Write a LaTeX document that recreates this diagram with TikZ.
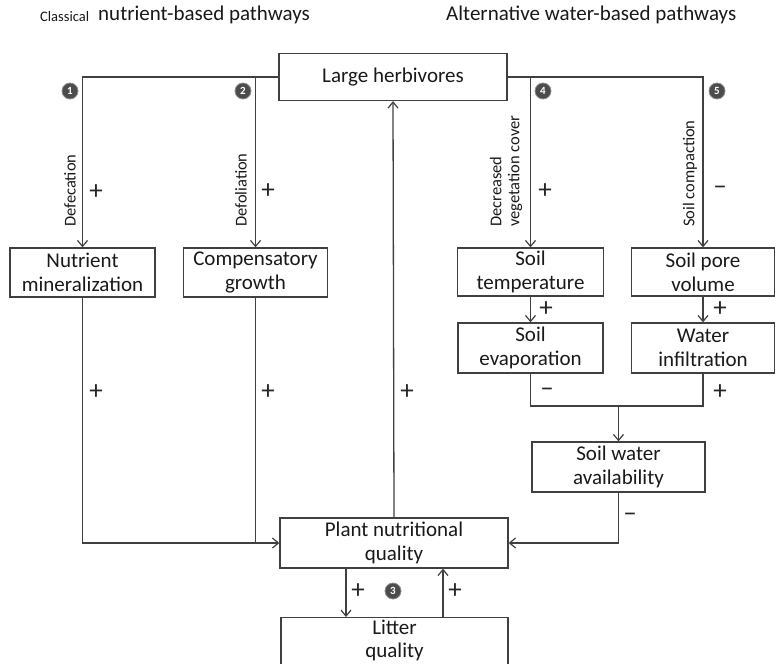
\documentclass[tikz,border=0pt]{standalone}
\usepackage{fontspec}
\setmainfont{Carlito}
\usetikzlibrary{arrows.meta}
\begin{document}
\begin{tikzpicture}[x=1pt,y=-1pt,
  box/.style={draw=black!75, line width=1.3pt, minimum height=49pt, align=center, inner sep=0pt,
    font=\fontsize{21}{24}\selectfont, text=black!90},
  conn/.style={draw=black!75, line width=1.3pt},
  arr/.style={conn, -{Straight Barb[length=6pt,width=10pt,line width=1.2pt]}},
  sgn/.style={font=\fontsize{27}{27}\selectfont, text=black!85, inner sep=0pt},
  vlab/.style={rotate=90, anchor=west, inner sep=0pt, align=left, font=\fontsize{16.5}{18}\selectfont, text=black!90},
  numc/.style={circle, fill=black!70, draw=black!45, line width=0.8pt, minimum size=16pt, inner sep=0pt,
    text=white, font=\fontsize{11}{11}\selectfont\bfseries},
  ttl/.style={inner sep=0pt, text=black!90}
]
\useasboundingbox (0,0) rectangle (775,663);

% titles
\node[ttl, anchor=west, font=\fontsize{14.5}{14.5}\selectfont] (t0) at (40,17) {Classical};
\node[ttl, anchor=west, font=\fontsize{21}{21}\selectfont] (t1) at (98,15) {nutrient-based pathways};
\node[ttl, anchor=west, font=\fontsize{21}{21}\selectfont] (t2) at (446,15) {Alternative water-based pathways};

% boxes
\node[box, minimum width=228pt, minimum height=47pt] (LH) at (393,77) {Large herbivores};
\node[box, minimum width=145pt] (NM) at (82.5,272.5) {Nutrient\\mineralization};
\node[box, minimum width=144pt] (CG) at (255.5,272.5) {Compensatory\\growth};
\node[box, minimum width=146pt, minimum height=48pt] (ST) at (530.5,272) {Soil\\temperature};
\node[box, minimum width=143pt, minimum height=48pt] (SP) at (703,272) {Soil pore\\volume};
\node[box, minimum width=145pt, minimum height=50pt] (SE) at (530.5,348) {Soil\\evaporation};
\node[box, minimum width=143pt, minimum height=50pt] (WI) at (703,348) {Water\\infiltration};
\node[box, minimum width=173pt, minimum height=50pt] (SW) at (618.5,467) {Soil water\\availability};
\node[box, minimum width=228pt, minimum height=50pt] (PN) at (394,543) {Plant nutritional\\quality};
\node[box, minimum width=227pt, minimum height=62pt, anchor=north] (LQ) at (394.5,617) {};
\node[align=center, inner sep=0pt, font=\fontsize{21}{23}\selectfont, text=black!90] (LQt) at (394.5,640) {Litter\\quality};

% top connectors
\draw[arr] (LH.west) -| (NM.north);
\draw[arr] (CG.north |- LH.west) -- (CG.north);
\draw[arr] (LH.east) -| (SP.north);
\draw[arr] (ST.north |- LH.east) -- (ST.north);

% water chain
\draw[arr] (ST.south) -- (SE.north);
\draw[arr] (SP.south) -- (WI.north);
\coordinate (J) at (618.5,406);
\draw[conn] (SE.south) |- (J) -| (WI.south);
\draw[arr] (J) -- (SW.north);
\draw[arr] (SW.south) |- (PN.east);

% nutrient chain
\draw[arr] (NM.south) |- (PN.west);
\draw[conn] (CG.south) -- (CG.south |- PN.west);
\draw[arr] (PN.north) -- (LH.south);

% litter loop
\draw[arr] ([xshift=-48pt]PN.south) -- ([xshift=-48pt]PN.south |- LQ.north);
\draw[arr] ([xshift=49pt]PN.south |- LQ.north) -- ([xshift=49pt]PN.south);

% vertical labels
\node[vlab] (l1) at (70,227) {Defecation};
\node[vlab] (l2) at (241,227) {Defoliation};
\node[vlab] (l4) at (506,227) {Decreased\\vegetation cover};
\node[vlab] (l5) at (690,227) {Soil compaction};

% signs
\node[sgn] (s1) at (96,192) {+};
\node[sgn] (s2) at (268,191) {+};
\node[sgn] (s4) at (545,191) {+};
\node[sgn] (s5) at (720,190) {–};
\node[sgn] (s6) at (546,309) {+};
\node[sgn] (s7) at (720,309) {+};
\node[sgn] (s8) at (547,392) {–};
\node[sgn] (s9) at (720,392) {+};
\node[sgn] (s10) at (96,392) {+};
\node[sgn] (s11) at (268,392) {+};
\node[sgn] (s12) at (407,392) {+};
\node[sgn] (s13) at (630,517) {–};
\node[sgn] (s14) at (358,591) {+};
\node[sgn] (s15) at (455,591) {+};

% numbered circles
\node[numc] (c1) at (70,91) {1};
\node[numc] (c2) at (243,91) {2};
\node[numc] (c3) at (393,591) {3};
\node[numc] (c4) at (543,91) {4};
\node[numc] (c5) at (717,91) {5};
\end{tikzpicture}
\end{document}
